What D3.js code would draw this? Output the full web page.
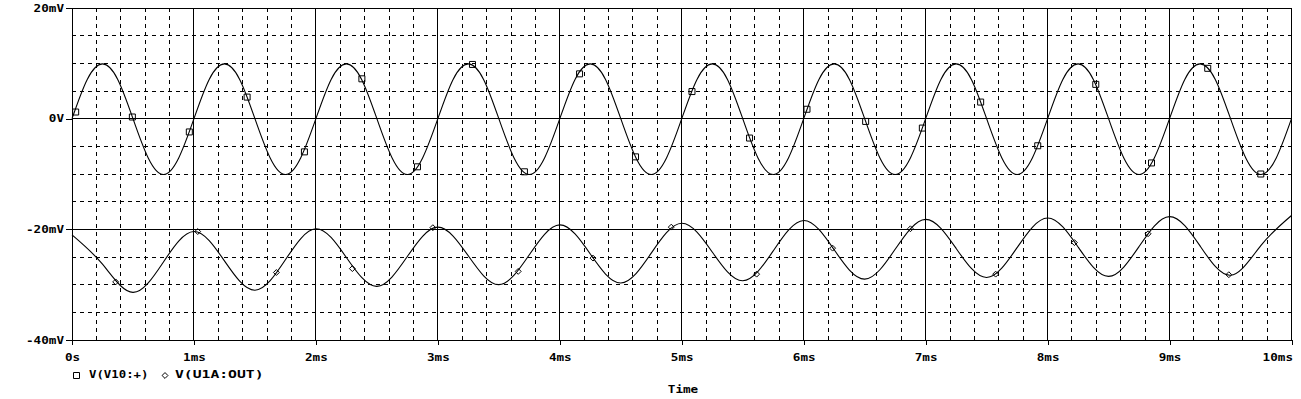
<!DOCTYPE html>
<html>
<head>
<meta charset="utf-8">
<script src="https://cdn.jsdelivr.net/npm/d3@7"></script>
<style>
  html, body { margin: 0; padding: 0; background: #fff; }
  svg text { font-family: "DejaVu Sans Mono", monospace; font-weight: bold; font-size: 10px; fill: #000; }
</style>
</head>
<body>
<div id="chart"></div>
<script>
// x axis (ms) and y axis (mV)
var xTicks = [0, 1, 2, 3, 4, 5, 6, 7, 8, 9, 10];
var xTickLabels = ['0s', '1ms', '2ms', '3ms', '4ms', '5ms', '6ms', '7ms', '8ms', '9ms', '10ms'];
var yTicks = [20, 0, -20, -40];
var yTickLabels = ['20mV', '0V', '-20mV', '-40mV'];

// V(V10:+)  sampled every 1/8 ms
var timeV10 = [
  0, 0.125, 0.25, 0.375, 0.5, 0.625, 0.75, 0.875,
  1, 1.125, 1.25, 1.375, 1.5, 1.625, 1.75, 1.875,
  2, 2.125, 2.25, 2.375, 2.5, 2.625, 2.75, 2.875,
  3, 3.125, 3.25, 3.375, 3.5, 3.625, 3.75, 3.875,
  4, 4.125, 4.25, 4.375, 4.5, 4.625, 4.75, 4.875,
  5, 5.125, 5.25, 5.375, 5.5, 5.625, 5.75, 5.875,
  6, 6.125, 6.25, 6.375, 6.5, 6.625, 6.75, 6.875,
  7, 7.125, 7.25, 7.375, 7.5, 7.625, 7.75, 7.875,
  8, 8.125, 8.25, 8.375, 8.5, 8.625, 8.75, 8.875,
  9, 9.125, 9.25, 9.375, 9.5, 9.625, 9.75, 9.875,
  10
];
var v10 = [
  0, 7.1, 9.9, 7.1, 0, -7.1, -10.1, -7.1,
  0, 7.1, 9.9, 7.1, 0, -7.1, -10.1, -7.1,
  0, 7.1, 9.9, 7.1, 0, -7.1, -10.1, -7.1,
  0, 7.1, 9.9, 7.1, 0, -7.1, -10.1, -7.1,
  0, 7.1, 9.9, 7.1, 0, -7.1, -10.1, -7.1,
  0, 7.1, 9.9, 7.1, 0, -7.1, -10.1, -7.1,
  0, 7.1, 9.9, 7.1, 0, -7.1, -10.1, -7.1,
  0, 7.1, 9.9, 7.1, 0, -7.1, -10.1, -7.1,
  0, 7.1, 9.9, 7.1, 0, -7.1, -10.1, -7.1,
  0, 7.1, 9.9, 7.1, 0, -7.1, -10.1, -7.1,
  0
];

// V(U1A:OUT)  sampled every 1/4 ms
var timeOut = [
  0, 0.25, 0.5, 0.75, 1, 1.25, 1.5, 1.75, 2, 2.25, 2.5, 2.75,
  3, 3.25, 3.5, 3.75, 4, 4.25, 4.5, 4.75, 5, 5.25, 5.5, 5.75,
  6, 6.25, 6.5, 6.75, 7, 7.25, 7.5, 7.75, 8, 8.25, 8.5, 8.75,
  9, 9.25, 9.5, 9.75, 10
];
var u1aOut = [
  -21.0, -26.3, -31.4, -25.9, -20.4, -25.7, -31.0, -25.5, -19.9, -25.1, -30.3, -24.9,
  -19.6, -24.8, -30.0, -24.6, -19.2, -24.45, -29.7, -24.3, -18.9, -24.1, -29.3, -23.9,
  -18.4, -23.7, -29.0, -23.6, -18.2, -23.45, -28.7, -23.3, -17.95, -23.2, -28.5, -23.1,
  -17.7, -23.0, -28.3, -22.9, -17.5
];

// marker symbols along each trace
var markV10Time = [0.03, 0.495, 0.962, 1.436, 1.906, 2.377, 2.833, 3.284, 3.71, 4.162, 4.621,
  5.084, 5.556, 6.027, 6.508, 6.973, 7.451, 7.919, 8.395, 8.852, 9.313, 9.748];
var markV10Val = [1.2, 0.3, -2.4, 3.9, -6.0, 7.2, -8.7, 9.8, -9.6, 8.1, -6.9,
  4.9, -3.5, 1.7, -0.5, -1.7, 3.0, -4.9, 6.2, -8.0, 9.1, -10.0];
var markOutTime = [0.358, 1.031, 1.676, 2.299, 2.959, 3.659, 4.272, 4.914, 5.614, 6.237,
  6.875, 7.574, 8.22, 8.824, 9.486];
var markOutVal = [-29.5, -20.4, -27.8, -27.1, -19.7, -27.6, -25.2, -19.6, -28.1, -23.4,
  -19.9, -28.1, -22.4, -20.8, -28.2];

var legendNames = ['V(V10:+)', 'V(U1A:OUT)'];

var width = 1301, height = 399;
var plotLeft = 72, plotRight = 1291.5, plotTop = 8, plotBottom = 340;
var charW = 7.6;

var svg = d3.select('#chart').append('svg')
  .attr('width', width).attr('height', height);

var x = d3.scaleLinear().domain([0, 10]).range([plotLeft, plotRight]);
var y = d3.scaleLinear().domain([-40, 20]).range([plotBottom, plotTop]);

// dashed minor grid
var grid = svg.append('g').attr('stroke', '#000').attr('shape-rendering', 'crispEdges');
grid.selectAll('.vminor')
  .data(x.ticks(50).filter(d => Math.abs(d - Math.round(d)) > 1e-6))
  .enter().append('line')
  .attr('x1', d => x(d)).attr('x2', d => x(d))
  .attr('y1', plotTop).attr('y2', plotBottom)
  .attr('stroke-dasharray', '4,4');
grid.selectAll('.hminor')
  .data(y.ticks(12).filter(d => d % 20 !== 0))
  .enter().append('line')
  .attr('x1', plotLeft).attr('x2', plotRight)
  .attr('y1', d => y(d)).attr('y2', d => y(d))
  .attr('stroke-dasharray', '4,4');
// solid major grid
grid.selectAll('.vmajor').data(xTicks).enter().append('line')
  .attr('x1', d => x(d)).attr('x2', d => x(d))
  .attr('y1', plotTop).attr('y2', plotBottom);
grid.selectAll('.hmajor').data(yTicks).enter().append('line')
  .attr('x1', plotLeft).attr('x2', plotRight)
  .attr('y1', d => y(d)).attr('y2', d => y(d));

// axes
var xAxis = svg.append('g')
  .attr('transform', `translate(0,${plotBottom})`)
  .call(d3.axisBottom(x).tickValues(xTicks)
    .tickFormat((d, i) => xTickLabels[i]).tickSize(5).tickSizeOuter(0));
var yAxis = svg.append('g')
  .attr('transform', `translate(${plotLeft},0)`)
  .call(d3.axisLeft(y).tickValues(yTicks)
    .tickFormat((d, i) => yTickLabels[i]).tickSize(6).tickPadding(2).tickSizeOuter(0));

[xAxis, yAxis].forEach(function(ax) {
  ax.attr('font-family', null).attr('font-size', null);
  ax.selectAll('path, line').attr('stroke', '#000').attr('shape-rendering', 'crispEdges');
  ax.selectAll('text').attr('fill', '#000')
    .attr('textLength', function() { return this.textContent.length * charW; })
    .attr('lengthAdjust', 'spacingAndGlyphs');
});
xAxis.selectAll('text').attr('dy', null).attr('y', 20.5);
xAxis.selectAll('text').filter((d, i) => i === xTicks.length - 1)
  .attr('text-anchor', 'end').attr('x', 1);

// traces
var line = d3.line().curve(d3.curveNatural)
  .x(d => x(d[0])).y(d => y(d[1]));

svg.append('path')
  .datum(d3.zip(timeV10, v10))
  .attr('fill', 'none').attr('stroke', '#000').attr('stroke-width', 1.1)
  .attr('d', line);
svg.append('path')
  .datum(d3.zip(timeOut, u1aOut))
  .attr('fill', 'none').attr('stroke', '#000').attr('stroke-width', 1.1)
  .attr('d', line);

var square = d3.symbol().type(d3.symbolSquare).size(36);
var diamond = d3.symbol().type(d3.symbolDiamond2).size(22);

svg.selectAll('.msq').data(d3.zip(markV10Time, markV10Val)).enter()
  .append('path')
  .attr('transform', d => `translate(${x(d[0])},${y(d[1])})`)
  .attr('d', square).attr('fill', 'none').attr('stroke', '#000');
svg.selectAll('.mdi').data(d3.zip(markOutTime, markOutVal)).enter()
  .append('path')
  .attr('transform', d => `translate(${x(d[0])},${y(d[1])})`)
  .attr('d', diamond).attr('fill', 'none').attr('stroke', '#000');

// legend
var legend = svg.append('g');
legend.append('path').attr('transform', 'translate(76.5,375.5)')
  .attr('d', square).attr('fill', 'none').attr('stroke', '#000');
legend.append('text').attr('x', 89).attr('y', 378).text(legendNames[0])
  .attr('textLength', 59.5).attr('lengthAdjust', 'spacingAndGlyphs');
legend.append('path').attr('transform', 'translate(165,375.5)')
  .attr('d', diamond).attr('fill', 'none').attr('stroke', '#000');
legend.append('text').attr('x', 175).attr('y', 378).text(legendNames[1])
  .attr('textLength', 88.5).attr('lengthAdjust', 'spacingAndGlyphs');

svg.append('text').attr('x', 683).attr('y', 392.5).attr('text-anchor', 'middle')
  .attr('textLength', 4 * charW).attr('lengthAdjust', 'spacingAndGlyphs')
  .text('Time');
</script>
</body>
</html>
